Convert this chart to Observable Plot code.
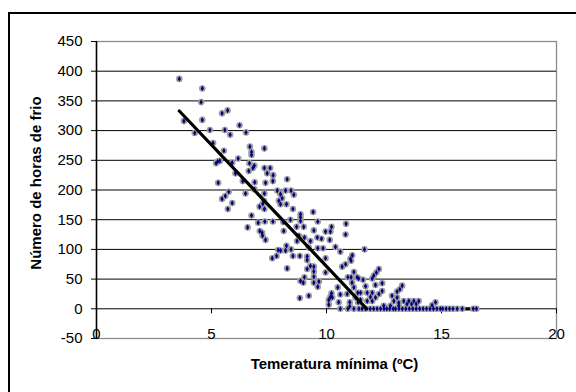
<!DOCTYPE html>
<html>
<head>
<meta charset="utf-8">
<script src="https://cdn.jsdelivr.net/npm/d3@7"></script>
<script src="https://cdn.jsdelivr.net/npm/@observablehq/plot@0.6"></script>
<style>
  html, body { margin: 0; padding: 0; background: #fff; }
  #wrap { position: relative; width: 576px; height: 392px; overflow: hidden; background: #fff; }
  #border { position: absolute; left: 8px; top: 12px; width: 620px; height: 420px; border: 2px solid #000; box-sizing: border-box; pointer-events: none; }
  #chart { position: absolute; left: 0; top: 0; }
</style>
</head>
<body>
<div id="wrap"><div id="chart"></div><div id="border"></div></div>
<script>
// Temperatura mínima (ºC)
const tempMin = [
  3.6, 4.6, 4.55, 3.8, 4.6, 5.46, 5.7, 4.27, 4.93, 5.58, 5.81, 6.22, 6.5, 5.07, 5.54, 6.67, 6.74, 6.74, 7.3,
  5.2, 5.27, 5.36, 5.9, 6.16, 6.65, 6.86, 6.8, 6.62, 7.3, 7.55, 7.42, 7.68, 6.04, 5.29, 6.36, 6.88, 7.35, 7.67,
  6.87, 6.48, 7.3, 5.75, 5.6, 5.46, 5.9, 5.71, 7.23, 7.09, 7.3, 6.74, 7.03, 7.32, 7.67, 6.57, 7.1, 7.2, 7.22, 7.35,
  8.29, 7.86, 8.0, 8.22, 8.46, 8.58, 8.07, 7.93, 8.26, 8.0, 8.54, 7.28, 8.87, 8.87, 9.42, 8.87, 9.62, 8.12, 8.43,
  10.85, 8.7, 9.01, 10.22, 8.14, 9.45, 9.96, 10.17, 8.8, 9.04, 9.6, 9.78, 9.3, 10.14, 10.83, 8.72, 9.23, 9.62, 9.85,
  10.39, 8.26, 8.0, 7.9, 8.46, 8.22, 10.6, 7.64, 7.83, 8.54, 8.84, 9.16, 9.16, 9.96, 11.04, 9.3, 9.45, 8.29, 9.16,
  9.45, 10.83, 10.68, 9.96, 9.45, 9.04, 8.87, 8.99, 9.45, 9.67, 9.62, 10.93, 11.07, 11.33, 11.11, 10.49, 10.22,
  10.17, 10.1, 10.6, 10.9, 9.23, 8.84, 10.1, 10.25, 11.01, 11.01, 10.6, 10.93, 11.19, 11.41, 10.53, 11.26, 11.37, 11.36,
  11.65, 11.12, 11.07, 12.28, 12.17, 12.06, 11.99, 11.19, 11.4, 11.59, 12.42, 11.19, 11.7, 12.13, 13.29, 13.19,
  13.07, 12.85, 13.07, 11.48, 11.77, 11.99, 12.42, 11.91, 12.13, 12.28, 11.48, 11.77, 11.99, 12.93, 13.36, 13.58,
  13.8, 14.01, 14.74, 13.14, 13.5, 13.7, 13.9, 12.49, 12.78, 13.14, 14.59,
  11.55, 11.7, 11.9, 12.05, 12.2, 12.35, 12.5, 12.62, 12.75, 12.9, 13.0, 13.15, 13.3, 13.45, 13.6, 13.75, 13.9,
  14.05, 14.2, 14.35, 14.5, 14.65, 14.8, 14.95, 15.05, 15.2, 15.35, 15.5, 15.68, 15.9, 16.38, 16.52
];
// Número de horas de frio
const horasFrio = [
  387, 371, 348, 316, 318, 329, 334, 296, 301, 301, 293, 309, 297, 279, 266, 273, 264, 259, 270,
  245, 248, 249, 246, 253, 245, 241, 237, 232, 237, 237, 228, 225, 228, 212, 215, 213, 212, 215,
  201, 194, 194, 197, 190, 185, 178, 168, 177, 172, 168, 157, 145, 147, 147, 137, 131, 128, 123, 116,
  218, 199, 193, 199, 199, 192, 186, 182, 176, 176, 168, 182, 159, 154, 163, 148, 147, 146, 150,
  143, 138, 138, 138, 131, 132, 130, 130, 123, 120, 120, 118, 114, 116, 125, 114, 103, 102, 102,
  104, 106, 98, 99, 100, 98, 96, 85, 89, 89, 89, 88, 82, 85, 84, 72, 71, 68, 67,
  63, 75, 71, 61, 54, 53, 47, 44, 44, 46, 37, 53, 53, 53, 44, 36, 26,
  20, 15, 24, 25, 22, 18, 7, 19, 11, 4, 0, 0, 0, 0, 11, 19, 11, 27,
  100, 90, 81, 67, 61, 56, 51, 62, 51, 49, 43, 36, 38, 40, 39, 33,
  29, 22, 19, 27, 27, 27, 30, 20, 19, 25, 15, 13, 13, 13, 13, 13,
  13, 13, 11, 10, 8, 8, 8, 5, 5, 5, 6,
  0, 0, 0, 0, 0, 0, 0, 0, 0, 0, 0, 0, 0, 0, 0, 0, 0,
  0, 0, 0, 0, 0, 0, 0, 0, 0, 0, 0, 0, 0, 0, 0
];
// Trend line: sloped part, then flat part at zero
const trendSlopeX = [3.6, 11.75];
const trendSlopeY = [333, 0];
const trendFlatX = [11.75, 16.5];
const trendFlatY = [0, 0];

const xTicks = [0, 5, 10, 15, 20];
const yTicks = [-50, 0, 50, 100, 150, 200, 250, 300, 350, 400, 450];
const gridBlack = [0, 50, 100, 150, 200, 250, 300, 350, 400];

const yTitle = "Número de horas de frio";
const xTitle = "Temeratura mínima (ºC)";

const points = tempMin.map((t, i) => ({t, h: horasFrio[i]}));
const slope = trendSlopeX.map((t, i) => ({t, h: trendSlopeY[i]}));
const flat = trendFlatX.map((t, i) => ({t, h: trendFlatY[i]}));

const font = "'Liberation Sans', Arial, sans-serif";

const chart = Plot.plot({
  width: 576,
  height: 392,
  marginLeft: 96,
  marginRight: 20,
  marginTop: 41,
  marginBottom: 54,
  style: {fontFamily: font, fontSize: "15px", color: "#000", background: "transparent"},
  x: {domain: [0, 20], axis: null},
  y: {domain: [-50, 450], axis: null},
  marks: [
    Plot.frame({stroke: "#8c8c8c", strokeWidth: 1.3}),
    Plot.ruleY(gridBlack, {stroke: "#000", strokeWidth: 1}),
    Plot.ruleX([0], {stroke: "#000", strokeWidth: 1.5}),
    Plot.ruleX(xTicks.slice(1), {x: d => d, y1: () => 0, y2: () => 0, insetBottom: -5, stroke: "#000", strokeWidth: 1}),
    Plot.axisY(yTicks, {anchor: "left", label: null, tickSize: 5, tickPadding: 9, fontSize: 15, stroke: "#000", tickFormat: d => String(d)}),
    Plot.text(xTicks, {x: d => d, y: () => -50, text: d => String(d), lineAnchor: "bottom", fontSize: 15, fill: "#000"}),
    Plot.line(flat, {x: "t", y: "h", stroke: "#000", strokeWidth: 3.2}),
    Plot.dot(points, {x: "t", y: "h", r: 3.3, fill: "#a0a0a0", stroke: "none"}),
    Plot.dot(points, {x: "t", y: "h", r: 1.7, symbol: "diamond", fill: "#000080", stroke: "none"}),
    Plot.line(slope, {x: "t", y: "h", stroke: "#000", strokeWidth: 3.2}),
    Plot.text([yTitle], {frameAnchor: "left", dx: -60, dy: -7, rotate: -90, textAnchor: "middle", fontSize: 15, fontWeight: "bold", fill: "#000"}),
    Plot.text([xTitle], {frameAnchor: "bottom", dx: 8, dy: 30, fontSize: 15, fontWeight: "bold", fill: "#000"})
  ]
});
document.getElementById("chart").appendChild(chart);
</script>
</body>
</html>
